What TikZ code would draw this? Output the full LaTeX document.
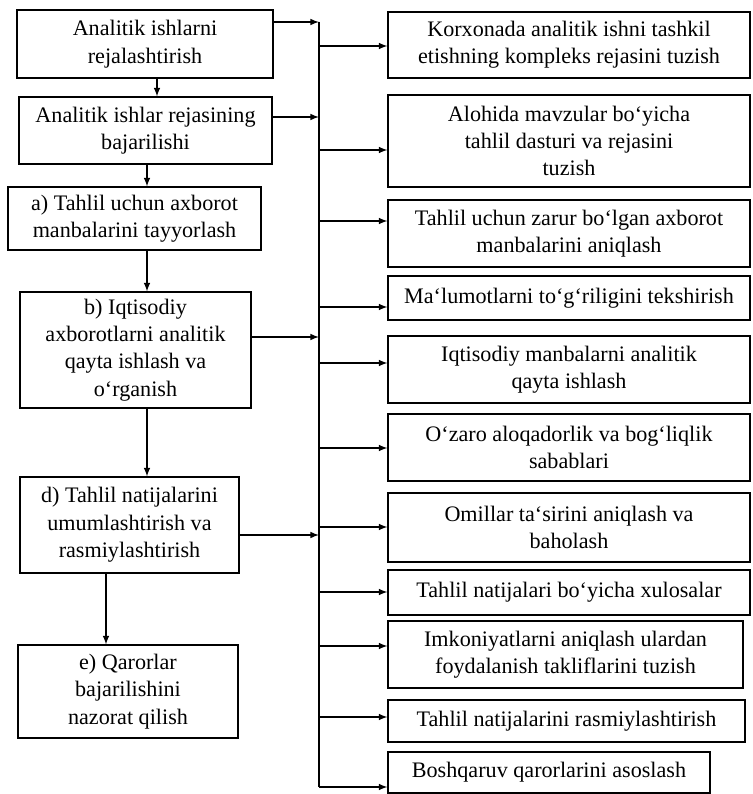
\documentclass[tikz,border=0pt]{standalone}
\usepackage{fontspec}
\setmainfont{Liberation Serif}
\begin{document}
\begin{tikzpicture}[x=0.02cm,y=-0.02cm,>=latex,line width=0.7pt,
  font=\fontsize{12.6}{15.6}\selectfont,
  blok/.style 2 args={draw,align=center,inner sep=0pt,
    minimum width=#1*0.02cm,minimum height=#2*0.02cm}]

\useasboundingbox (0,0) rectangle (753,794);

% stages
\node [blok={256}{68}] (plan) at (145,44) {Analitik ishlarni\\rejalashtirish};
\node [blok={253}{67}] (bajar) at (145.5,130.5) {Analitik ishlar rejasining\\bajarilishi};
\node [blok={253}{63}] (axb) at (134.5,218.5) {a) Tahlil uchun axborot\\manbalarini tayyorlash};
\node [blok={231}{116}] (qayta) at (135.5,350) {b) Iqtisodiy\\axborotlarni analitik\\qayta ishlash va\\o`rganish};
\node [blok={219}{96}] (umum) at (129.5,525) {d) Tahlil natijalarini\\umumlashtirish va\\rasmiylashtirish};
\node [blok={220}{93}] (nazorat) at (128,691.5) {e) Qarorlar\\bajarilishini\\nazorat qilish};

\draw [->] (plan.south -| 157,0) -- (bajar.north -| 157,0);
\draw [->] (bajar.south -| 147,0) -- (axb.north -| 147,0);
\draw [->] (axb.south -| 147,0) -- (qayta.north -| 147,0);
\draw [->] (qayta.south -| 147,0) -- (umum.north -| 147,0);
\draw [->] (umum.south -| 106,0) -- (nazorat.north -| 106,0);

% tasks
\node [blok={362}{66}] (k1) at (569,45) {Korxonada analitik ishni tashkil\\etishning kompleks rejasini tuzish};
\node [blok={362}{92}] (k2) at (569,141) {Alohida mavzular bo`yicha\\tahlil dasturi va rejasini\\tuzish};
\node [blok={362}{67}] (k3) at (569,233.5) {Tahlil uchun zarur bo`lgan axborot\\manbalarini aniqlash};
\node [blok={362}{44}] (k4) at (569,298) {Ma`lumotlarni to`g`riligini tekshirish};
\node [blok={362}{67}] (k5) at (569,369.5) {Iqtisodiy manbalarni analitik\\qayta ishlash};
\node [blok={362}{67}] (k6) at (569,447.5) {O`zaro aloqadorlik va bog`liqlik\\sabablari};
\node [blok={362}{69}] (k7) at (569,527.5) {Omillar ta`sirini aniqlash va\\baholash};
\node [blok={362}{45}] (k8) at (569,592.5) {Tahlil natijalari bo`yicha xulosalar};
\node [blok={355}{67}] (k9) at (565.5,654.5) {Imkoniyatlarni aniqlash ulardan\\foydalanish takliflarini tuzish};
\node [blok={357}{42}] (k10) at (566.5,721) {Tahlil natijalarini rasmiylashtirish};
\node [blok={322}{41}] (k11) at (549,772.5) {Boshqaruv qarorlarini asoslash};

% trunk
\coordinate (top) at (319,22);
\coordinate (bot) at (319,787);
\draw (top) -- (bot);

\foreach \n/\y in {plan/22,bajar/117,qayta/337,umum/535}
  \draw [->] (\n.east |- 0,\y) -- (top |- 0,\y);

\foreach \n/\y in {k1/46,k2/150,k3/221,k4/307,k5/363,k6/448,k7/527,k8/592,k9/646,k10/717,k11/787}
  \draw [->] (top |- 0,\y) -- (\n.west |- 0,\y);
\end{tikzpicture}
\end{document}
